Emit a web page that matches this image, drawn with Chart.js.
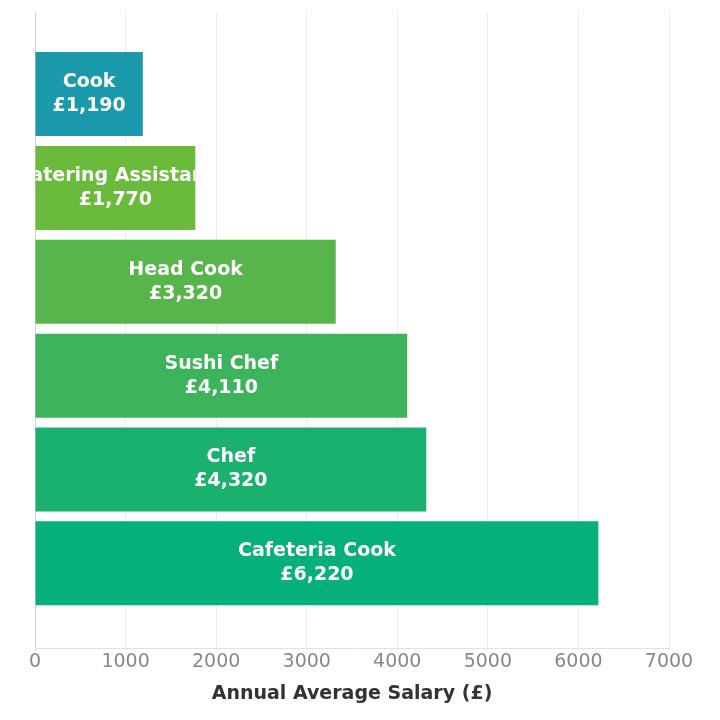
<!DOCTYPE html>
<html>
<head>
<meta charset="utf-8">
<script src="https://cdn.jsdelivr.net/npm/chart.js@4"></script>
<style>
  html, body { margin: 0; padding: 0; background: #fff; }
  #wrap { width: 720px; height: 720px; position: relative; }
</style>
</head>
<body>
<div id="wrap"><canvas id="salaryChart"></canvas></div>
<script>
const jobs = ['Cook', 'Catering Assistant', 'Head Cook', 'Sushi Chef', 'Chef', 'Cafeteria Cook'];
const salaries = [1190, 1770, 3320, 4110, 4320, 6220];
const xTicks = [0, 1000, 2000, 3000, 4000, 5000, 6000, 7000];

const barColors = ['#1a98ac', '#6aba3c', '#58b54c', '#3db45c', '#1ab06e', '#05b07d'];
const FONT = "'DejaVu Sans', Verdana, sans-serif";

const fmt = v => '£' + v.toLocaleString('en-GB');

// Labels drawn inside each bar, clipped to the bar like the original
const barLabels = {
    id: 'barLabels',
    afterDatasetsDraw(chart) {
        const ctx = chart.ctx;
        const meta = chart.getDatasetMeta(0);
        meta.data.forEach((bar, i) => {
            const left = Math.min(bar.base, bar.x);
            const w = Math.abs(bar.x - bar.base);
            const top = bar.y - bar.height / 2;
            ctx.save();
            ctx.beginPath();
            ctx.rect(left, top, w, bar.height);
            ctx.clip();
            ctx.fillStyle = '#ffffff';
            ctx.font = 'bold 19px ' + FONT;
            ctx.textAlign = 'center';
            ctx.textBaseline = 'middle';
            const cx = left + w / 2;
            ctx.fillText(jobs[i], cx, bar.y - 12);
            ctx.fillText(fmt(salaries[i]), cx, bar.y + 12);
            ctx.restore();
        });
    }
};

document.addEventListener('DOMContentLoaded', () => {
    new Chart(document.getElementById('salaryChart'), {
        type: 'bar',
        data: {
            datasets: [{
                data: salaries.map((v, i) => ({ x: v, y: i })),
                backgroundColor: barColors,
                borderWidth: 0,
                barPercentage: 0.895,
                categoryPercentage: 1
            }]
        },
        options: {
            indexAxis: 'y',
            responsive: true,
            maintainAspectRatio: false,
            animation: false,
            layout: { padding: { left: 35, right: 51, top: 12, bottom: 15 } },
            plugins: {
                legend: { display: false },
                tooltip: { enabled: false }
            },
            scales: {
                x: {
                    type: 'linear',
                    min: xTicks[0],
                    max: xTicks[xTicks.length - 1],
                    afterBuildTicks: s => { s.ticks = xTicks.map(v => ({ value: v })); },
                    grid: {
                        color: ctx => ctx.index === 0 ? '#d0d0d0' : '#ececec',
                        lineWidth: 1,
                        drawTicks: true,
                        tickLength: 2
                    },
                    border: { display: true, color: '#e2e2e2' },
                    ticks: {
                        color: '#888888',
                        font: { family: FONT, size: 19 },
                        padding: 0,
                        callback: v => String(v)
                    },
                    title: {
                        display: true,
                        text: 'Annual Average Salary (£)',
                        color: '#333333',
                        font: { family: FONT, size: 19, weight: 'bold' },
                        padding: { top: 9, bottom: 0 }
                    }
                },
                y: {
                    type: 'linear',
                    display: false,
                    offset: false,
                    reverse: true,
                    min: -0.874,
                    max: 5.906,
                    afterDataLimits: s => { s.min = -0.874; s.max = 5.906; },
                    afterBuildTicks: s => { s.ticks = jobs.map((_, i) => ({ value: i })); }
                }
            }
        },
        plugins: [barLabels]
    });
});
</script>
</body>
</html>
